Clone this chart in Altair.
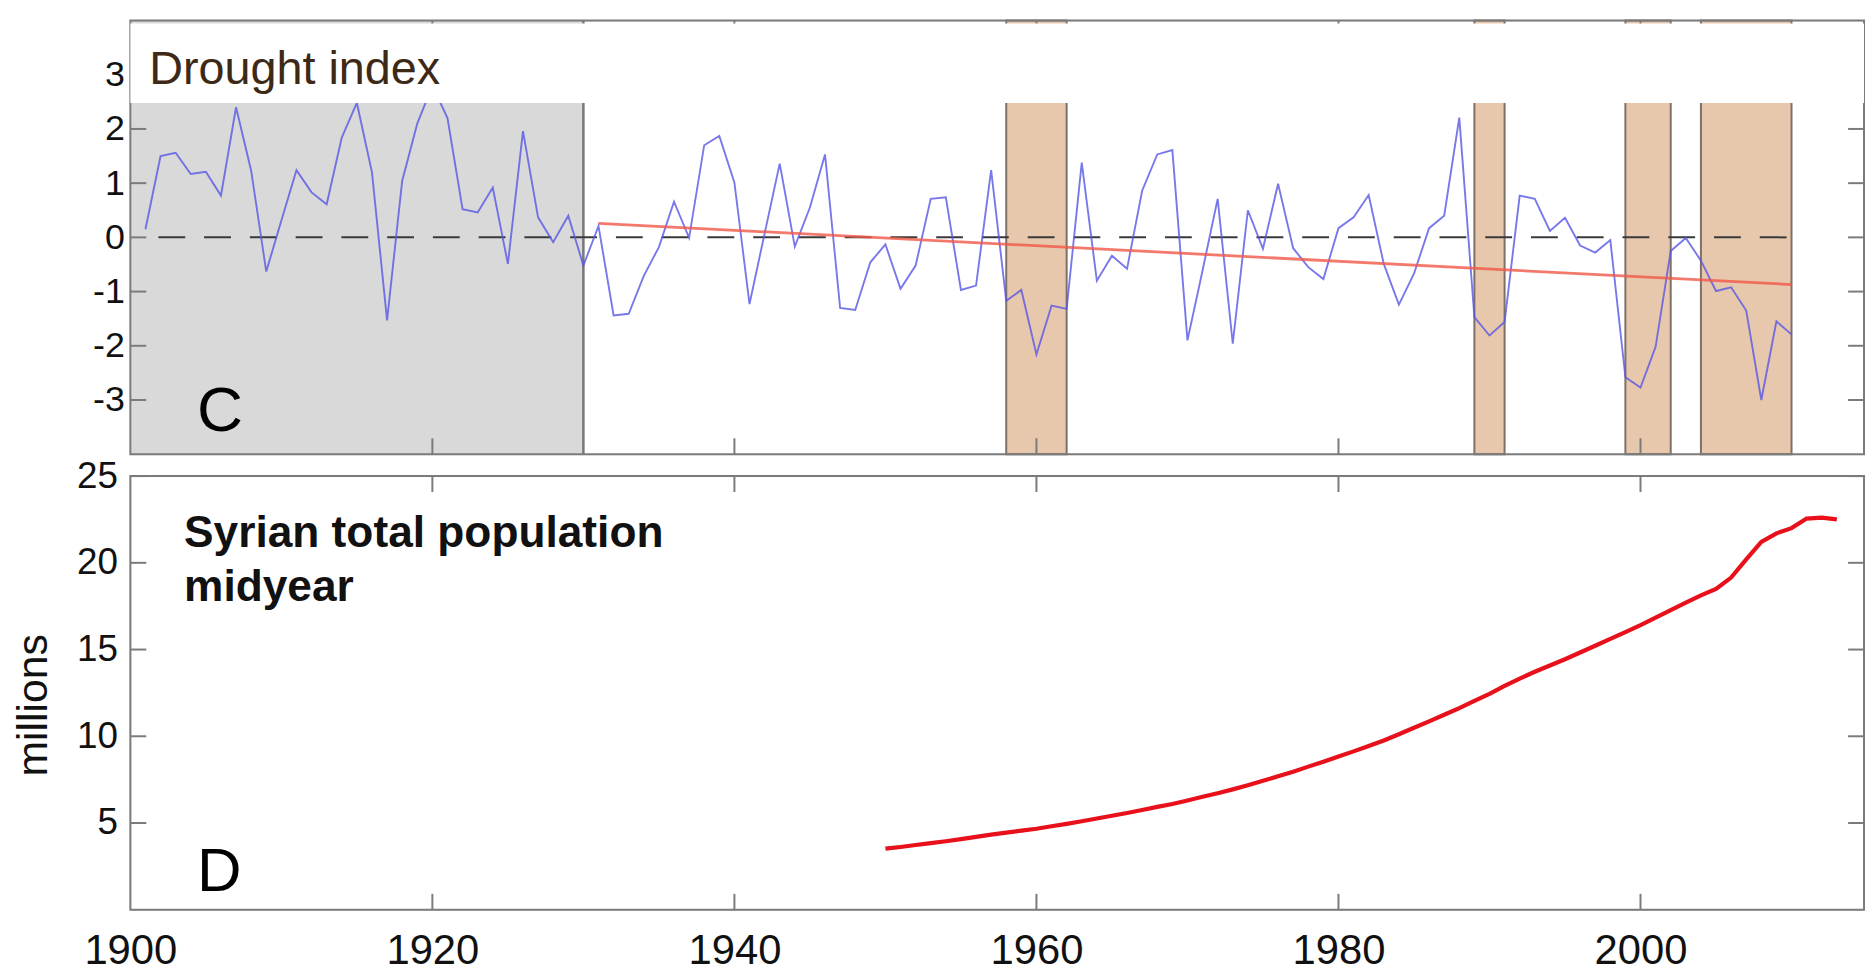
import altair as alt
import pandas as pd

# ---------------- data ----------------
drought_years = list(range(1901, 2011))
drought_values = [
    0.15, 1.50, 1.56, 1.17, 1.21, 0.77, 2.40, 1.23, -0.63, 0.31,
    1.24, 0.83, 0.61, 1.84, 2.48, 1.20, -1.53, 1.04, 2.10, 2.80,
    2.20, 0.52, 0.46, 0.92, -0.49, 1.96, 0.37, -0.09, 0.40, -0.52,
    0.21, -1.44, -1.41, -0.71, -0.18, 0.66, -0.01, 1.70, 1.87, 1.01,
    -1.23, 0.07, 1.36, -0.17, 0.55, 1.53, -1.30, -1.34, -0.46, -0.13,
    -0.95, -0.52, 0.71, 0.74, -0.97, -0.89, 1.24, -1.17, -0.97, -2.16,
    -1.26, -1.32, 1.38, -0.80, -0.34, -0.58, 0.86, 1.53, 1.61, -1.90,
    -0.61, 0.71, -1.96, 0.50, -0.21, 0.99, -0.20, -0.55, -0.77, 0.17,
    0.37, 0.78, -0.49, -1.24, -0.67, 0.17, 0.40, 2.21, -1.47, -1.81,
    -1.56, 0.77, 0.71, 0.12, 0.36, -0.15, -0.28, -0.05, -2.58, -2.77,
    -2.02, -0.25, -0.01, -0.43, -0.99, -0.92, -1.35, -3.00, -1.55, -1.79,
]

trend_years = [1931, 2010]
trend_values = [0.26, -0.87]

zero_years = [1901, 2010]
zero_values = [0, 0]

grey_start = [1900]
grey_end = [1930]

drought_start = [1958, 1989, 1999, 2004]
drought_end = [1962, 1991, 2002, 2010]

pop_years = list(range(1950, 2014))
pop_values = [
    3.52, 3.62, 3.73, 3.84, 3.95, 4.07, 4.20, 4.33, 4.45, 4.56,
    4.67, 4.81, 4.95, 5.10, 5.26, 5.42, 5.58, 5.75, 5.93, 6.10,
    6.30, 6.51, 6.72, 6.94, 7.18, 7.43, 7.69, 7.96, 8.25, 8.53,
    8.83, 9.13, 9.44, 9.76, 10.12, 10.49, 10.86, 11.24, 11.62, 12.04,
    12.45, 12.90, 13.33, 13.72, 14.08, 14.44, 14.83, 15.22, 15.61, 16.01,
    16.41, 16.84, 17.27, 17.70, 18.12, 18.50, 19.15, 20.20, 21.20, 21.70,
    22.00, 22.55, 22.60, 22.50,
]

x_ticks = [1920, 1940, 1960, 1980, 2000]
x_labels = [1900, 1920, 1940, 1960, 1980, 2000]
drought_ticks = [-3, -2, -1, 0, 1, 2, 3]
pop_ticks = [5, 10, 15, 20, 25]

# ---------------- layout / style ----------------
W = 1743
H = 436
TL = 16
FONT = "Liberation Sans"
FRAME = "#7b7b7b"

xscale = alt.Scale(domain=[1900, 2014.8], nice=False, zero=False)
dscale = alt.Scale(domain=[-4, 4], nice=False, zero=False)
pscale = alt.Scale(domain=[0, 25], nice=False, zero=False)

d_axis = alt.Axis(values=drought_ticks, title=None, ticks=False, domain=False,
                  grid=False, labelFontSize=36, labelPadding=6,
                  labelExpr="'' + datum.value",
                  labelColor="#111111", labelFont=FONT)
p_axis = alt.Axis(values=pop_ticks, title="millions", ticks=False, domain=False,
                  grid=False, labelFontSize=37, labelPadding=13,
                  labelColor="#111111", labelFont=FONT,
                  titleFontSize=43, titleFontWeight="normal", titleColor="#111111",
                  titleFont=FONT, titleX=-97, titleY=230, titleAngle=270,
                  titleAlign="center", titleBaseline="middle")
px_axis = alt.Axis(values=x_labels, title=None, ticks=False, domain=False,
                   grid=False, labelFontSize=42, labelPadding=21, format="d",
                   labelFlush=False, labelColor="#111111", labelFont=FONT)

one = pd.DataFrame({"k": [0]})
drought_df = pd.DataFrame({"year": drought_years, "v": drought_values})
trend_df = pd.DataFrame({"year": trend_years, "v": trend_values})
zero_df = pd.DataFrame({"year": zero_years, "v": zero_values})
grey_df = pd.DataFrame({"s": grey_start, "e": grey_end})
bars_df = pd.DataFrame({"s": drought_start, "e": drought_end})
pop_df = pd.DataFrame({"year": pop_years, "p": pop_values})
xt_df = pd.DataFrame({"year": x_ticks})
dt_df = pd.DataFrame({"v": drought_ticks})
pt_df = pd.DataFrame({"p": pop_ticks})


def X(field, axis=None):
    return alt.X(field, type="quantitative", scale=xscale, axis=axis)


def frame_layer():
    return alt.Chart(one).mark_rect(fill="white", fillOpacity=0, stroke=FRAME,
                                    strokeWidth=2).encode(
        x=alt.value(0), x2=alt.value(W), y=alt.value(0), y2=alt.value(H))


def xticks_layers(axis=None):
    top = alt.Chart(xt_df).mark_rule(color=FRAME, strokeWidth=2).encode(
        x=X("year:Q", axis), y=alt.value(0), y2=alt.value(TL))
    bot = alt.Chart(xt_df).mark_rule(color=FRAME, strokeWidth=2).encode(
        x=X("year:Q", axis), y=alt.value(H - TL), y2=alt.value(H))
    return [top, bot]


def yticks_layers(df, field, scale, axis):
    left = alt.Chart(df).mark_rule(color=FRAME, strokeWidth=2).encode(
        y=alt.Y(field, type="quantitative", scale=scale, axis=axis),
        x=alt.value(0), x2=alt.value(TL))
    right = alt.Chart(df).mark_rule(color=FRAME, strokeWidth=2).encode(
        y=alt.Y(field, type="quantitative", scale=scale, axis=axis),
        x=alt.value(W - TL), x2=alt.value(W))
    return [left, right]


# ---------------- drought panel ----------------
grey = alt.Chart(grey_df).mark_rect(color="#d9d9d9").encode(
    x=X("s:Q"), x2="e:Q", y=alt.value(0), y2=alt.value(H))
grey_edge = alt.Chart(grey_df).mark_rule(color="#787878", strokeWidth=2.5).encode(
    x=X("e:Q"), y=alt.value(0), y2=alt.value(H))
bars = alt.Chart(bars_df).mark_rect(fill="#e8c8ad", stroke="#7e7066",
                                    strokeWidth=2).encode(
    x=X("s:Q"), x2="e:Q", y=alt.value(0), y2=alt.value(H))
zero = alt.Chart(zero_df).mark_line(color="#3a3a3a", strokeWidth=2,
                                    strokeDash=[27, 19], strokeDashOffset=33).encode(
    x=X("year:Q"), y=alt.Y("v:Q", scale=dscale, axis=d_axis))
blue = alt.Chart(drought_df).mark_line(color="#5656e6", strokeWidth=1.9,
                                       opacity=0.8).encode(
    x=X("year:Q"), y=alt.Y("v:Q", scale=dscale, axis=d_axis))
trend = alt.Chart(trend_df).mark_line(color="#f05848", strokeWidth=2.8,
                                      opacity=0.8).encode(
    x=X("year:Q"), y=alt.Y("v:Q", scale=dscale, axis=d_axis))
box = alt.Chart(one).mark_rect(color="white").encode(
    x=alt.value(0), x2=alt.value(W), y=alt.value(3), y2=alt.value(83))
title_c = alt.Chart(one).mark_text(text="Drought index", align="left",
                                   baseline="alphabetic", fontSize=47, font=FONT,
                                   color="#3d2916").encode(
    x=alt.value(19), y=alt.value(64))
letter_c = alt.Chart(one).mark_text(text="C", align="left", baseline="alphabetic",
                                    fontSize=64, font=FONT, color="#000000").encode(
    x=alt.value(67), y=alt.value(413))

drought = alt.layer(
    grey, bars, grey_edge, zero, blue, trend, frame_layer(),
    *yticks_layers(dt_df, "v", dscale, d_axis), *xticks_layers(),
    box, title_c, letter_c,
).properties(width=W, height=H)

# ---------------- population panel ----------------
pop = alt.Chart(pop_df).mark_line(color="#e8101a", strokeWidth=4.2).encode(
    x=X("year:Q", px_axis), y=alt.Y("p:Q", scale=pscale, axis=p_axis))
syr = alt.Chart(one).mark_text(text=["Syrian total population", "midyear"],
                               align="left", baseline="alphabetic", fontSize=44.5,
                               lineHeight=55, font=FONT, fontWeight="bold",
                               color="#111111").encode(
    x=alt.value(54), y=alt.value(71))
letter_d = alt.Chart(one).mark_text(text="D", align="left", baseline="alphabetic",
                                    fontSize=62, font=FONT, color="#000000").encode(
    x=alt.value(67), y=alt.value(417))

population = alt.layer(
    pop, frame_layer(),
    *yticks_layers(pt_df, "p", pscale, p_axis), *xticks_layers(px_axis),
    syr, letter_d,
).properties(width=W, height=H)

chart = alt.vconcat(drought, population, spacing=0).properties(
    padding={"left": 4, "top": 8, "right": 0, "bottom": 0},
    background="white",
).configure_view(stroke=None).configure(font=FONT)

chart.save("out.html", embed_options={"renderer": "svg", "actions": False})
